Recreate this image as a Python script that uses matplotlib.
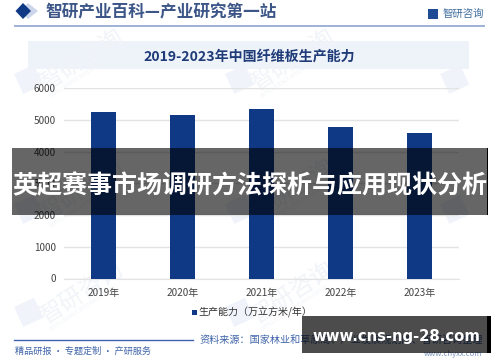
import matplotlib
matplotlib.use("Agg")
import matplotlib.pyplot as plt
from matplotlib.patches import Rectangle, Polygon

plt.rcParams['font.family'] = ['Noto Sans CJK SC', 'DejaVu Sans']

years = ['2019年', '2020年', '2021年', '2022年', '2023年']
capacity = [5235, 5160, 5340, 4770, 4580]
y_ticks = [0, 1000, 2000, 3000, 4000, 5000, 6000]
chart_title = '2019-2023年中国纤维板生产能力'
header = '智研产业百科—产业研究第一站'
brand = '智研咨询'
legend_label = '生产能力（万立方米/年）'
footer_left = '精品研报 · 专题定制 · 产研服务'
footer_right = '资料来源：国家林业和草原局、产业发展规划院、智研咨询整理'
overlay_title = '英超赛事市场调研方法探析与应用现状分析'
overlay_url = 'www.cns-ng-28.com'
site = 'www.chyxx.com'
watermark = '智研咨询'
watermark_en = 'INTELLIGENCE RESEARCH GROUP'

W, H = 500, 362
NAVY = '#0F3885'
fig = plt.figure(figsize=(W/100, H/100), dpi=100, facecolor='white')

bg = fig.add_axes([0, 0, 1, 1], zorder=0)
bg.set_xlim(0, W); bg.set_ylim(H, 0); bg.axis('off')

# Watermarks: logo block + rotated name, rising to the right
WM = '#F1F4F8'
for x, y in [(14, 85), (225, 85), (14, 215), (225, 215), (14, 318), (225, 318), (440, 85), (440, 215)]:
    bg.add_patch(Rectangle((x, y - 11), 22, 22, color='#F0F4FA', lw=0, angle=-25))
    if x < 400:
        bg.text(x + 28, y + 2, watermark, fontsize=17, color=WM, rotation=33,
                ha='left', va='center', rotation_mode='anchor')
        bg.text(x + 36, y + 12, watermark_en, fontsize=3.6, color=WM, rotation=33,
                ha='left', va='center', rotation_mode='anchor')

bg.add_patch(Polygon([[28, 3], [38, 11], [28, 19], [20, 11]], color='#CCD6EA', lw=0))
bg.add_patch(Polygon([[23, 3], [31, 11], [23, 19], [15.5, 11]], color=NAVY, lw=0))
bg.text(45, 12, header, fontsize=12.0, color='#3D5688', va='center', ha='left', fontweight='bold')
bg.add_patch(Rectangle((428, 9), 10, 10, color='#1D4C94', lw=0))
bg.text(443, 14, brand, fontsize=7.5, color='#3D6C9E', va='center', ha='left')
bg.plot([15, 484], [25.5, 25.5], color='#9DB2D6', lw=1.4)
bg.add_patch(Rectangle((28, 41), 441, 28, color='#EEF3FA', lw=0))
bg.text(249, 56.5, chart_title, fontsize=10.1, color='#1F3C78', ha='center', va='center', fontweight='bold')

bg.text(255, 312, legend_label, fontsize=7.2, color='#333333', ha='center', va='center')
bg.add_patch(Rectangle((192, 310), 5, 5, color=NAVY, lw=0))

bg.plot([14, 193], [340, 340], color='#3F63B0', lw=1)
bg.text(15, 351.5, footer_left, fontsize=6.6, color='#3E64A8', ha='left', va='center')
bg.text(483, 341, footer_right, fontsize=7.25, color='#3E64A8', ha='right', va='center')
bg.text(482, 353.5, site, fontsize=5.5, color='#7B93BD', ha='right', va='center')

ax = fig.add_axes([64/W, 1 - 278.5/H, 395/W, 190.5/H], zorder=1)
ax.patch.set_alpha(0)
ax.bar(range(len(years)), capacity, width=0.31, color=NAVY, zorder=3)
ax.set_xlim(-0.5, 4.5)
ax.set_ylim(0, 6000)
ax.set_yticks(y_ticks)
ax.set_xticks(range(len(years)), years)
ax.grid(axis='y', color='#E3E3E3', lw=1, zorder=0)
ax.tick_params(length=0, labelsize=7.2, labelcolor='#444444')
ax.tick_params(axis='y', pad=6)
ax.tick_params(axis='x', pad=6.5)
for s in ax.spines.values():
    s.set_visible(False)
ax.spines['bottom'].set_visible(True)
ax.spines['bottom'].set_color('#E3E3E3')

top = fig.add_axes([0, 0, 1, 1], zorder=2)
top.set_xlim(0, W); top.set_ylim(H, 0); top.axis('off')
top.add_patch(Rectangle((12, 148), 475, 67, color='black', alpha=0.6, lw=0))
top.add_patch(Rectangle((487, 148), 1, 67, color='black', lw=0))
top.text(249.5, 186, overlay_title, fontsize=18.0, color='white', ha='center', va='center', fontweight='bold')
top.add_patch(Rectangle((302, 316), 185, 37, color='#000000', alpha=0.7, lw=0))
top.add_patch(Rectangle((487, 316), 4, 37, color='black', lw=0))
top.text(396, 337, overlay_url, fontsize=10.7, color='white', ha='center', va='center', fontweight='bold', family='DejaVu Sans')

fig.savefig('out.png', dpi=100)
